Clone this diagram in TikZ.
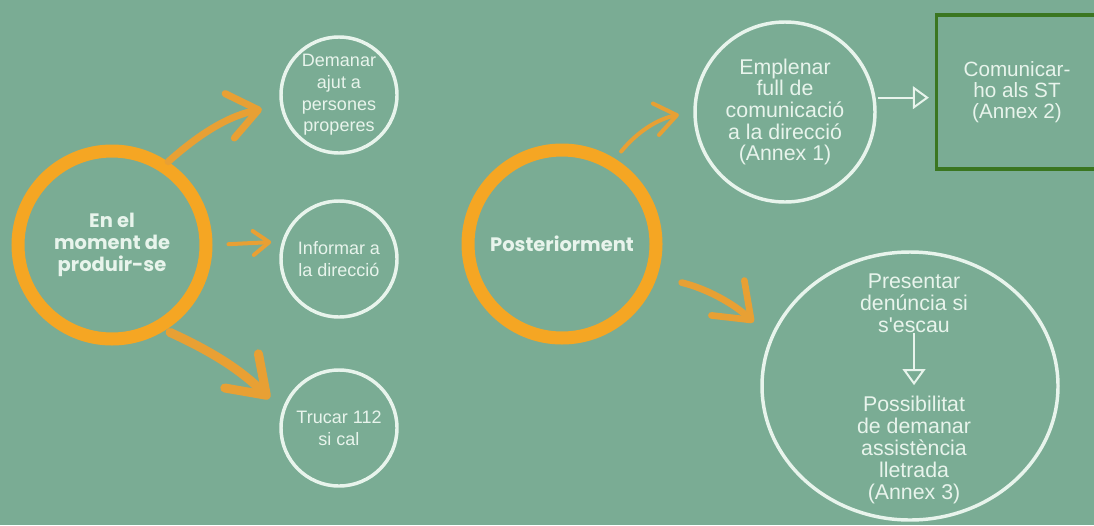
\documentclass[tikz,border=0pt]{standalone}
\usepackage{fontspec}
\setmainfont{Liberation Sans}[Ligatures=TeXOff]
\newfontfamily\headfont{Poppins}
\usepackage{tikz}
\usetikzlibrary{shapes.geometric, arrows.meta, positioning}
\definecolor{bggreen}{RGB}{122,172,148}
\definecolor{ringorange}{RGB}{245,166,35}
\definecolor{brushorange}{RGB}{232,160,52}
\definecolor{boxgreen}{RGB}{58,118,32}
\definecolor{mint}{RGB}{232,244,236}
\tikzset{
  stage/.style = {
    circle,
    minimum size=141pt,
    inner sep=0pt,
    align=center,
    text=mint,
    font=\headfont\bfseries\fontsize{14.6}{16.3}\selectfont,
    draw=ringorange,
    line width=9.75pt
  },
  action/.style = {
    circle,
    minimum size=87pt,
    inner sep=0pt,
    align=center,
    text=mint,
    font=\fontsize{13.5}{16.3}\selectfont,
    draw=mint,
    line width=2.6pt
  },
  action_big/.style = {
    action,
    minimum size=135pt,
    font=\fontsize{16}{16.3}\selectfont
  },
  action_oval/.style = {
    ellipse,
    minimum width=222pt,
    minimum height=201pt,
    inner sep=0pt,
    draw=mint,
    line width=2.6pt
  },
  action_box/.style = {
    rectangle,
    minimum width=120.75pt,
    minimum height=115.5pt,
    align=center,
    text=mint,
    font=\fontsize{15.5}{16}\selectfont,
    draw=boxgreen,
    line width=2.4pt
  },
  plain/.style = {
    inner sep=0pt,
    align=center,
    text=mint,
    font=\fontsize{16}{16.5}\selectfont
  },
  brush/.style = {
    draw=brushorange,
    line cap=round,
    line join=round
  },
  link/.style = {
    -{Triangle[open, length=12pt, width=17pt]},
    draw=mint,
    line width=1.5pt
  }
}
\begin{document}
\begin{tikzpicture}[x=0.75pt, y=-0.75pt]
\useasboundingbox (0,0) rectangle (1094,525);
\fill[bggreen] (0,0) rectangle (1094,525);

% ===== Etapes (anells taronja) =====
\node (moment) [stage] at (112,245) {En el\\moment de\\produir-se};
\node (despres) [stage] at (562,244) {Posteriorment};

% ===== Accions immediates =====
\node (ajut) [action] at (339,95) {Demanar\\ajut a\\persones\\properes};
\node (informar) [action] at (339,259) {Informar a\\la direcció};
\node (trucar) [action] at (339,428) {Trucar 112\\si cal};

% ===== Accions posteriors =====
\node (full) [action_big] at (785,112) {Emplenar\\full de\\comunicació\\a la direcció\\(Annex 1)};
\node (st) [action_box] at (1017,92) {Comunicar-\\ho als ST\\(Annex 2)};
\node (denuncia) [action_oval] at (910,386) {};
\node (presentar) [plain] at (914,303) {Presentar\\denúncia si\\s'escau};
\node (lletrada) [plain] at (914,450) {Possibilitat\\de demanar\\assistència\\lletrada\\(Annex 3)};

% ===== Fletxes de pinzell =====
\draw [brush, line width=5.25pt, -{Straight Barb[round, length=22pt, width=34pt]},
  shorten >=14pt] (moment.56) to[bend left=15] (ajut.190);
\draw [brush, line width=3pt, -{Straight Barb[round, length=12pt, width=18pt]},
  shorten <=12pt, shorten >=8pt] (moment.east) -- (informar.163);
\draw [brush, line width=6.75pt, -{Straight Barb[round, length=26pt, width=36pt]},
  shorten <=4pt, shorten >=13pt] (moment.-58) to[bend left=10] (trucar.163);

\draw [brush, line width=3pt, -{Straight Barb[round, length=16pt, width=24pt]},
  shorten <=7pt, shorten >=11pt] (despres.58) to[bend left=20] (full.180);
\draw [brush, line width=5pt, -{Straight Barb[round, length=24pt, width=36pt]},
  shorten <=19pt, shorten >=17pt] (despres.-19) to[bend left=15] (denuncia.161);

% ===== Fletxes blanques =====
\draw [link, shorten <=2pt, shorten >=4.5pt] (full.9) -- (full.9 -| st.west);
\draw [link, shorten >=8pt] (presentar.south) -- (lletrada.north);

\end{tikzpicture}
\end{document}
